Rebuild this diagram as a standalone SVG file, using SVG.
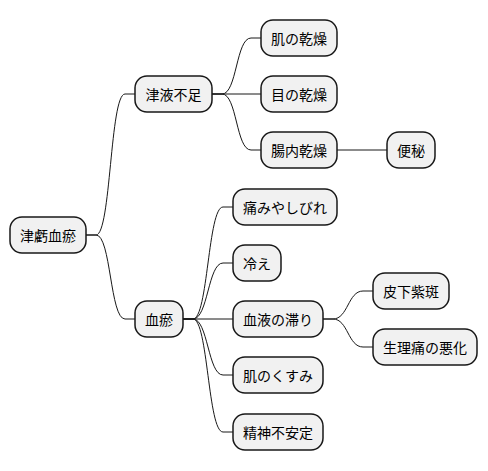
<svg xmlns="http://www.w3.org/2000/svg" width="488" height="471" viewBox="0 0 488 471">
<style>
.n rect{fill:#F1F1F1;stroke:#181818;stroke-width:1.5}
.n text{font-family:"Noto Sans CJK JP","Noto Sans CJK SC",sans-serif;font-size:14px;fill:#000;text-anchor:middle;dominant-baseline:central}
.c path{fill:none;stroke:#181818;stroke-width:1}
</style>
<rect width="488" height="471" fill="#fff"/>
<g class="c">
<path d="M86,235 L96,235 C111,235 110,94 125,94 L135,94"/>
<path d="M86,235 L96,235 C111,235 110,319 125,319 L135,319"/>
<path d="M212,94 L222,94 C237,94 236,38 251,38 L261,38"/>
<path d="M212,94 L261,94"/>
<path d="M212,94 L222,94 C237,94 236,150 251,150 L261,150"/>
<path d="M337,150 L387,150"/>
<path d="M183,319 L193,319 C208,319 208,207 223,207 L233,207"/>
<path d="M183,319 L193,319 C208,319 208,263 223,263 L233,263"/>
<path d="M183,319 L233,319"/>
<path d="M183,319 L193,319 C208,319 208,375 223,375 L233,375"/>
<path d="M183,319 L193,319 C208,319 208,432 223,432 L233,432"/>
<path d="M323,319 L333,319 C348,319 348,291 363,291 L373,291"/>
<path d="M323,319 L333,319 C348,319 348,347 363,347 L373,347"/>
</g>
<g id="root" class="n"><rect x="10" y="217" width="76" height="36" rx="12"/><text x="48" y="235">津虧血瘀</text></g>
<g id="shin" class="n"><rect x="135" y="76" width="77" height="36" rx="12"/><text x="173.5" y="94">津液不足</text></g>
<g id="oketsu" class="n"><rect x="135" y="301" width="48" height="36" rx="12"/><text x="159" y="319">血瘀</text></g>
<g id="hada" class="n"><rect x="261" y="20" width="76" height="36" rx="12"/><text x="299" y="38">肌の乾燥</text></g>
<g id="me" class="n"><rect x="261" y="76" width="76" height="36" rx="12"/><text x="299" y="94">目の乾燥</text></g>
<g id="chou" class="n"><rect x="261" y="132" width="76" height="36" rx="12"/><text x="299" y="150">腸内乾燥</text></g>
<g id="benpi" class="n"><rect x="387" y="132" width="48" height="36" rx="12"/><text x="411" y="150">便秘</text></g>
<g id="itami" class="n"><rect x="233" y="189" width="104" height="36" rx="12"/><text x="285" y="207">痛みやしびれ</text></g>
<g id="hie" class="n"><rect x="233" y="245" width="48" height="36" rx="12"/><text x="257" y="263">冷え</text></g>
<g id="ketsueki" class="n"><rect x="233" y="301" width="90" height="36" rx="12"/><text x="278" y="319">血液の滞り</text></g>
<g id="kusumi" class="n"><rect x="233" y="357" width="90" height="36" rx="12"/><text x="278" y="375">肌のくすみ</text></g>
<g id="seishin" class="n"><rect x="233" y="414" width="90" height="36" rx="12"/><text x="278" y="432">精神不安定</text></g>
<g id="shihan" class="n"><rect x="373" y="273" width="76" height="36" rx="12"/><text x="411" y="291">皮下紫斑</text></g>
<g id="seiri" class="n"><rect x="373" y="329" width="104" height="36" rx="12"/><text x="425" y="347">生理痛の悪化</text></g>
</svg>
